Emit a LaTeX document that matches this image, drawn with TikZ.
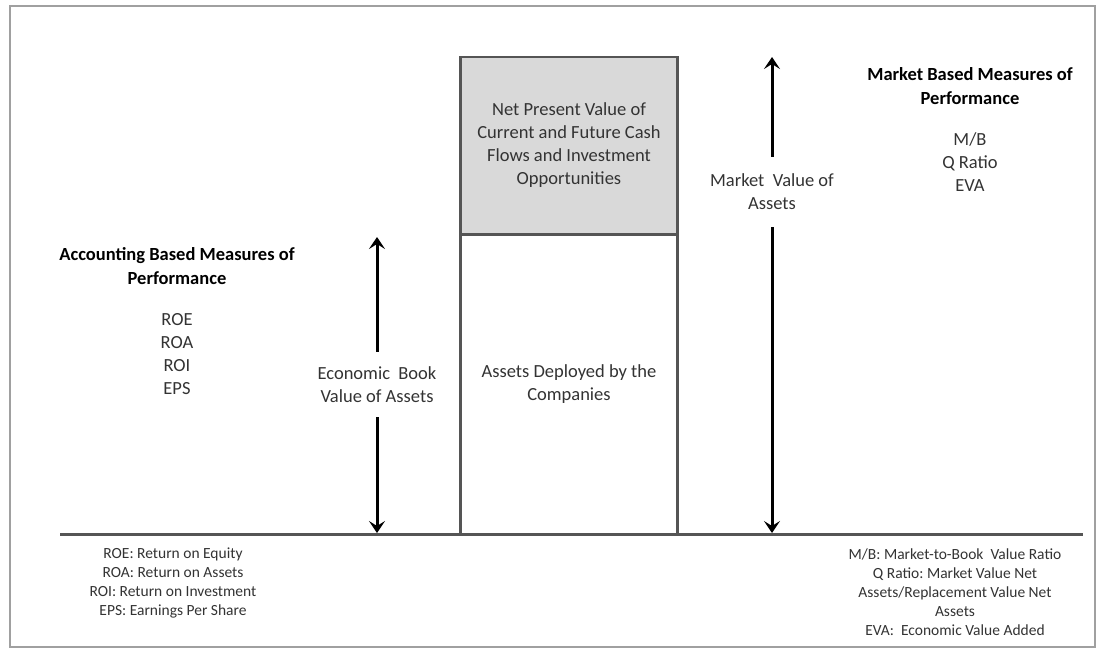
\documentclass[tikz,border=0pt]{standalone}
\usepackage{fontspec}
\setmainfont{Carlito}
\frenchspacing
\usetikzlibrary{arrows.meta}
\definecolor{txt}{HTML}{333333}
\definecolor{boxline}{HTML}{555555}
\definecolor{boxfill}{HTML}{D9D9D9}
\definecolor{framec}{HTML}{A0A0A0}
\tikzset{
  body/.style={font={\fontsize{18.5}{23}\selectfont}, text=txt, align=center, inner sep=0pt},
  heading/.style={font={\fontsize{18.5}{23.5}\selectfont\bfseries}, text=black, align=center, inner sep=0pt},
  note/.style={font={\fontsize{15.5}{19}\selectfont}, text=txt, align=center, inner sep=0pt},
  panel/.style={draw=boxline, line width=2.5pt, minimum width=217pt, inner sep=0pt, align=center,
    font={\fontsize{18.5}{23}\selectfont}, text=txt},
  arr/.style={line width=3pt, black, -{Stealth[length=12pt, width=16pt, inset=5pt]}},
  gaplabel/.style={body, minimum width=10pt},
}
\begin{document}
\begin{tikzpicture}[x=1pt, y=-1pt]
\useasboundingbox (0,0) rectangle (1098,649);
% outer frame
\draw[framec, line width=2pt] (10,6) rectangle (1095,647);

% ground line
\coordinate (gl) at (60,534);
\coordinate (gr) at (1083,534);

% the stacked value column
\node[panel, fill=boxfill, minimum height=177pt] (npv) at (569,145.5)
  {Net Present Value of\\Current and Future Cash\\Flows and Investment\\Opportunities};
\node[panel, fill=white, minimum height=300pt] (adb) at (569,384.5)
  {Assets Deployed by the\\Companies};
\draw[boxline, line width=3pt] (gl) -- (gr);

% book value arrow
\node[gaplabel, minimum height=65pt] (ebv) at (377,384.5) {Economic\ \ Book\\Value of Assets};
\coordinate (ebvtip) at (377,237);
\coordinate (ebvfoot) at (377,533);
\draw[arr] (ebv.north) -- (ebvtip);
\draw[arr] (ebv.south) -- (ebvfoot);

% market value arrow
\node[gaplabel, minimum height=70pt] (mva) at (772,192) {Market\ \ Value of\\Assets};
\coordinate (mvatip) at (772,57);
\coordinate (mvafoot) at (772,533);
\draw[arr] (mva.north) -- (mvatip);
\draw[arr] (mva.south) -- (mvafoot);

% accounting measures
\node[heading] (acch) at (177,266) {Accounting Based Measures of\\Performance};
\node[body] (accl) at (177,354) {ROE\\ROA\\ROI\\EPS};
% market measures
\node[heading] (mkth) at (970,86) {Market Based Measures of\\Performance};
\node[body] (mktl) at (970,162) {M/B\\Q Ratio\\EVA};

% definitions under the ground line
\node[note] (accn) at (173,583) {ROE: Return on Equity\\ROA: Return on Assets\\ROI: Return on Investment\\EPS: Earnings Per Share};
\node[note] (mktn) at (955,592) {M/B: Market-to-Book\ \ Value Ratio\\Q Ratio: Market Value Net\\Assets/Replacement Value Net\\Assets\\EVA:\ \ Economic Value Added};
\end{tikzpicture}
\end{document}
